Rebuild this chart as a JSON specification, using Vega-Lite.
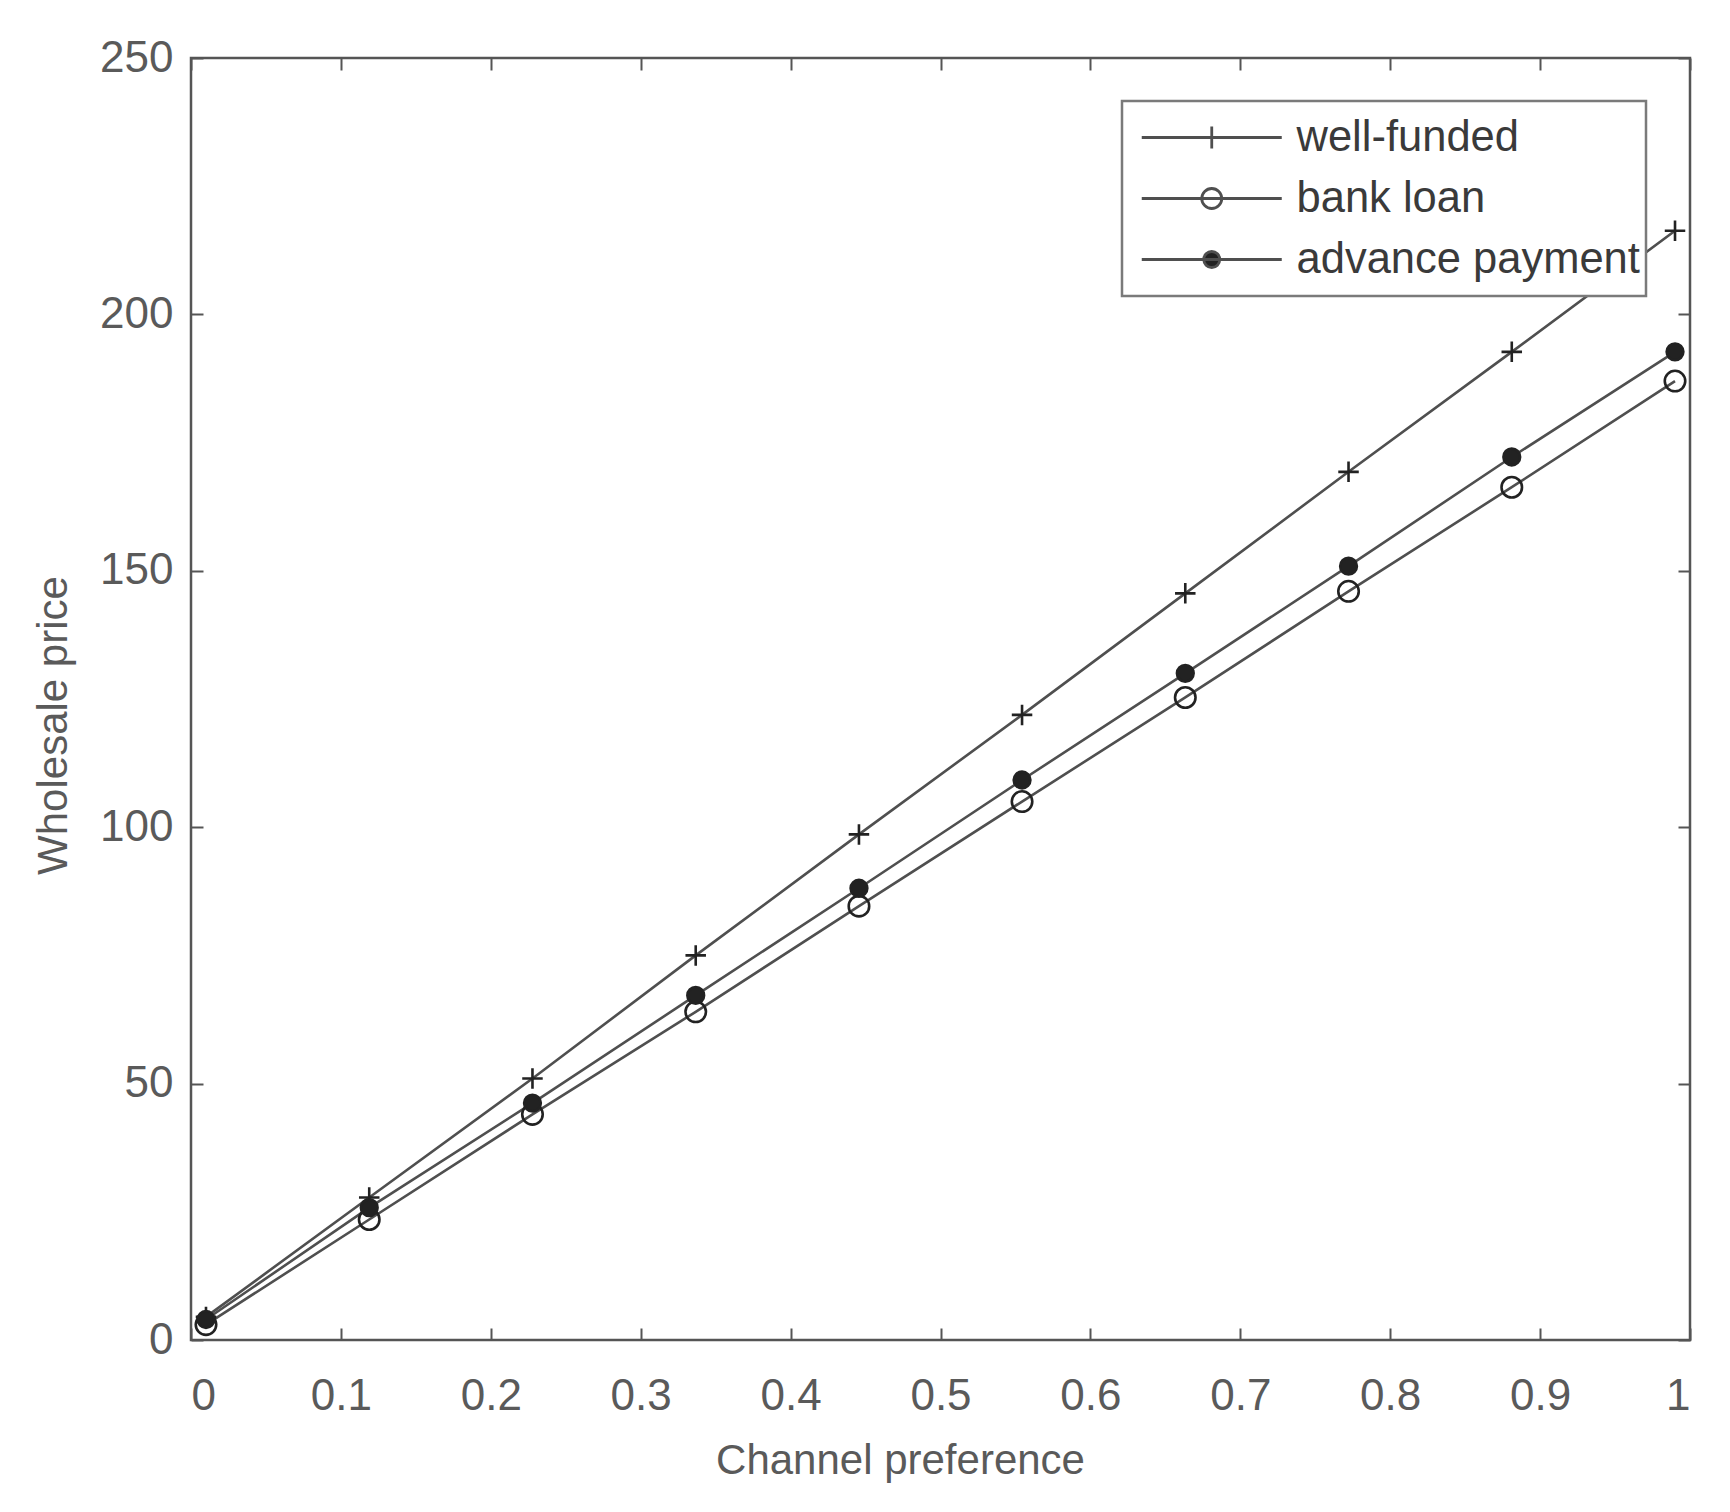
{
  "$schema": "https://vega.github.io/schema/vega-lite/v6.json",
  "width": 1499,
  "height": 1282,
  "autosize": {"type": "none"},
  "padding": {"left": 191, "top": 58, "right": 40, "bottom": 172},
  "background": "white",
  "config": {
    "view": {"stroke": "#555555", "strokeWidth": 2.5},
    "font": "Liberation Sans",
    "axis": {
      "grid": false,
      "domain": false,
      "tickColor": "#555555",
      "tickWidth": 2,
      "tickSize": -12,
      "labelFont": "Liberation Sans",
      "labelFontSize": 44,
      "labelColor": "#5a5a5a",
      "titleFont": "Liberation Sans",
      "titleFontSize": 42,
      "titleColor": "#5a5a5a",
      "titleFontWeight": "normal"
    }
  },
  "data": {
    "values": [
      {"x": 0.01, "y": 4.5, "series": "well-funded"},
      {"x": 0.1189, "y": 27.8, "series": "well-funded"},
      {"x": 0.2278, "y": 51.0, "series": "well-funded"},
      {"x": 0.3367, "y": 75.0, "series": "well-funded"},
      {"x": 0.4456, "y": 98.6, "series": "well-funded"},
      {"x": 0.5544, "y": 121.9, "series": "well-funded"},
      {"x": 0.6633, "y": 145.6, "series": "well-funded"},
      {"x": 0.7722, "y": 169.3, "series": "well-funded"},
      {"x": 0.8811, "y": 192.7, "series": "well-funded"},
      {"x": 0.99, "y": 216.3, "series": "well-funded"},
      {"x": 0.01, "y": 3.0, "series": "bank loan"},
      {"x": 0.1189, "y": 23.5, "series": "bank loan"},
      {"x": 0.2278, "y": 44.0, "series": "bank loan"},
      {"x": 0.3367, "y": 64.0, "series": "bank loan"},
      {"x": 0.4456, "y": 84.6, "series": "bank loan"},
      {"x": 0.5544, "y": 105.0, "series": "bank loan"},
      {"x": 0.6633, "y": 125.3, "series": "bank loan"},
      {"x": 0.7722, "y": 146.0, "series": "bank loan"},
      {"x": 0.8811, "y": 166.3, "series": "bank loan"},
      {"x": 0.99, "y": 187.0, "series": "bank loan"},
      {"x": 0.01, "y": 4.0, "series": "advance payment"},
      {"x": 0.1189, "y": 25.8, "series": "advance payment"},
      {"x": 0.2278, "y": 46.2, "series": "advance payment"},
      {"x": 0.3367, "y": 67.2, "series": "advance payment"},
      {"x": 0.4456, "y": 88.1, "series": "advance payment"},
      {"x": 0.5544, "y": 109.2, "series": "advance payment"},
      {"x": 0.6633, "y": 130.0, "series": "advance payment"},
      {"x": 0.7722, "y": 150.9, "series": "advance payment"},
      {"x": 0.8811, "y": 172.2, "series": "advance payment"},
      {"x": 0.99, "y": 192.7, "series": "advance payment"}
    ]
  },
  "layer": [
    {
      "mark": {"type": "line", "strokeWidth": 2.6},
      "encoding": {
        "x": {
          "field": "x", "type": "quantitative",
          "scale": {"domain": [0, 1], "nice": false, "zero": false},
          "axis": {"orient": "bottom", "values": [0, 0.1, 0.2, 0.3, 0.4, 0.5, 0.6, 0.7, 0.8, 0.9, 1], "format": "~g", "title": "Channel preference", "labelPadding": 46, "titlePadding": 22, "titleX": 709}
        },
        "y": {
          "field": "y", "type": "quantitative",
          "scale": {"domain": [0, 250], "nice": false},
          "axis": {"orient": "left", "values": [0, 50, 100, 150, 200, 250], "title": "Wholesale price", "labelPadding": 30, "titlePadding": 24, "titleY": 667}
        },
        "stroke": {
          "field": "series", "type": "nominal",
          "scale": {"domain": ["well-funded", "bank loan", "advance payment"], "range": ["#4f4f4f", "#4f4f4f", "#4f4f4f"]},
          "legend": {
            "orient": "none", "legendX": 931, "legendY": 43, "zindex": 2,
            "title": null,
            "fillColor": "white", "strokeColor": "#7a7a7a",
            "padding": 6, "clipHeight": 61, "rowPadding": 0,
            "symbolSize": 400, "symbolOffset": 62, "labelOffset": 63, "labelLimit": 600,
            "labelFont": "Liberation Sans", "labelFontSize": 43.5, "labelColor": "#3a3a3a",
            "encoding": {
              "legend": {"strokeWidth": {"value": 2.5}, "fill": {"value": "white"}},
              "symbols": {
                "shape": {"condition": [
                  {"test": "datum.value === 'well-funded'", "value": "M-7,0H7M0,-1.1V1.1"},
                  {"test": "datum.value === 'bank loan'", "value": "M-7,0H7M-1,0A1,1 0 1,1 1,0A1,1 0 1,1 -1,0"}
                ], "value": "M-7,0H7M-0.8,0A0.8,0.8 0 1,1 0.8,0A0.8,0.8 0 1,1 -0.8,0"},
                "fill": {"condition": {"test": "datum.value === 'advance payment'", "value": "#222222"}, "value": "transparent"},
                "size": {"value": 400},
                "strokeWidth": {"value": 2.8},
                "opacity": {"value": 1}
              }
            }
          }
        }
      }
    },
    {
      "mark": {"type": "point", "filled": false, "stroke": "#222222", "strokeWidth": 2.6, "opacity": 1},
      "encoding": {
        "x": {
          "field": "x", "type": "quantitative",
          "axis": {"orient": "top", "values": [0, 0.1, 0.2, 0.3, 0.4, 0.5, 0.6, 0.7, 0.8, 0.9, 1], "labels": false, "title": null}
        },
        "y": {
          "field": "y", "type": "quantitative",
          "axis": {"orient": "right", "values": [0, 50, 100, 150, 200, 250], "labels": false, "title": null}
        },
        "shape": {
          "field": "series", "type": "nominal",
          "scale": {"domain": ["bank loan", "advance payment", "well-funded"], "range": ["circle", "circle", "M-1,0H1M0,-1V1"]},
          "legend": null
        },
        "fill": {"condition": {"test": "datum.series === 'advance payment'", "value": "#222222"}, "value": "transparent"},
        "size": {"condition": {"test": "datum.series === 'advance payment'", "value": 280}, "value": 420}
      }
    }
  ]
}
